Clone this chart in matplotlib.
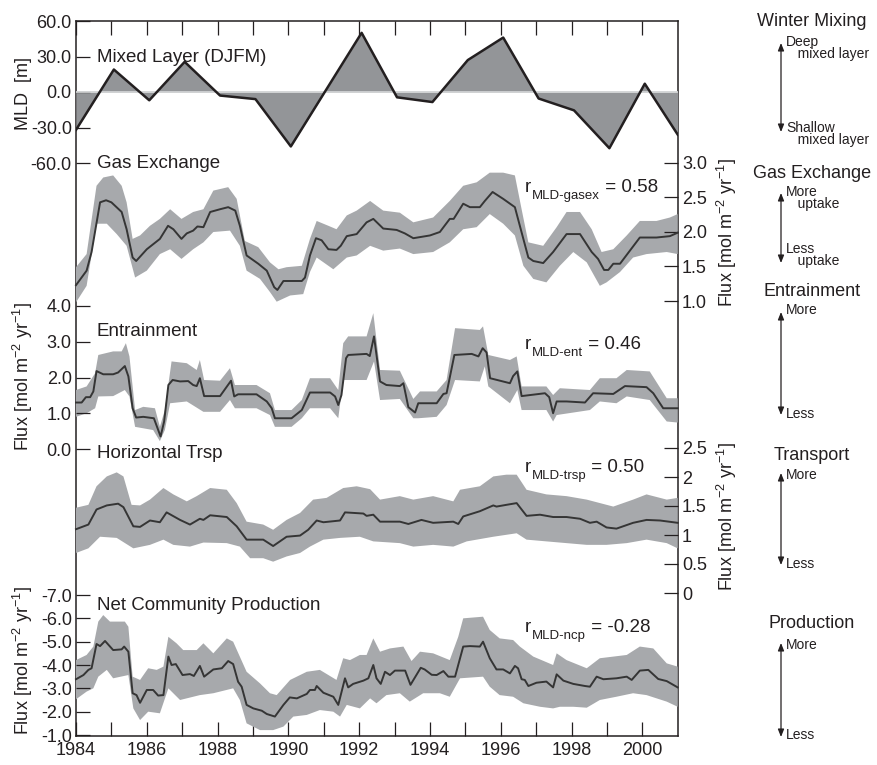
import matplotlib.pyplot as plt
import numpy as np

plt.rcParams['font.family'] = ['Liberation Sans', 'DejaVu Sans']
plt.rcParams['mathtext.fontset'] = 'custom'
plt.rcParams['mathtext.rm'] = 'Liberation Sans'
plt.rcParams['mathtext.it'] = 'Liberation Sans:italic'
plt.rcParams['mathtext.default'] = 'regular'
plt.rcParams['text.color'] = '#231f20'
plt.rcParams['xtick.color'] = '#231f20'
plt.rcParams['ytick.color'] = '#231f20'

# ---- winter (DJFM) mixed layer depth anomaly [m]
mld_year = [1984.0, 1985.07, 1986.07, 1987.07, 1988.07, 1989.07, 1990.07, 1991.07, 1992.07,
            1993.07, 1994.07, 1995.07, 1996.07, 1997.07, 1998.07, 1999.07, 2000.07, 2001.0]
mld_depth = [-32, 19, -7, 25.5, -3, -6, -46, 2, 50,
             -4.5, -8.5, 27, 46, -5.5, -15.5, -47.5, 7, -36]

# ---- gas exchange [mol m-2 yr-1]
gas_t = [1984.0, 1984.3, 1984.44, 1984.68, 1984.85, 1985.0, 1985.29, 1985.43, 1985.6, 1985.7,
         1986.0, 1986.37, 1986.6, 1986.75, 1986.98, 1987.13, 1987.31, 1987.43, 1987.6, 1987.79,
         1988.07, 1988.3, 1988.5, 1988.63, 1988.82, 1989.15, 1989.39, 1989.6, 1989.69, 1989.86,
         1990.14, 1990.38, 1990.47, 1990.61, 1990.78, 1990.94, 1991.13, 1991.36, 1991.48, 1991.65,
         1991.93, 1992.21, 1992.4, 1992.68, 1993.06, 1993.29, 1993.53, 1994.0, 1994.28, 1994.56,
         1994.67, 1994.94, 1995.13, 1995.41, 1995.55, 1995.77, 1996.07, 1996.4, 1996.54, 1996.78,
         1996.92, 1997.2, 1997.48, 1997.86, 1998.24, 1998.57, 1998.75, 1998.92, 1999.04, 1999.18,
         1999.37, 1999.65, 1999.93, 2000.4, 2000.78, 2001.0]
gas_flux = [1.23, 1.44, 1.71, 2.43, 2.46, 2.43, 2.29, 2.04, 1.63, 1.58,
            1.75, 1.90, 2.09, 2.04, 1.90, 1.98, 2.02, 2.08, 2.07, 2.29,
            2.33, 2.36, 2.31, 2.09, 1.66, 1.54, 1.44, 1.20, 1.16, 1.29,
            1.29, 1.29, 1.34, 1.66, 1.91, 1.88, 1.75, 1.74, 1.80, 1.94,
            1.97, 2.14, 2.19, 2.05, 2.03, 1.98, 1.91, 1.95, 2.00, 2.19,
            2.19, 2.41, 2.36, 2.36, 2.45, 2.58, 2.48, 2.36, 2.09, 1.63,
            1.58, 1.55, 1.71, 1.97, 1.97, 1.71, 1.61, 1.45, 1.45, 1.54,
            1.54, 1.73, 1.92, 1.92, 1.94, 1.99]
gas_hi_t = [1984.0, 1984.3, 1984.58, 1984.77, 1985.05, 1985.29, 1985.43, 1985.6, 1985.81, 1986.09,
            1986.37, 1986.66, 1986.98, 1987.31, 1987.6, 1987.88, 1988.3, 1988.54, 1988.77, 1989.15,
            1989.48, 1989.72, 1989.95, 1990.38, 1990.61, 1990.8, 1991.13, 1991.36, 1991.65, 1991.93,
            1992.31, 1992.68, 1993.15, 1993.53, 1994.09, 1994.56, 1994.94, 1995.32, 1995.69, 1996.07,
            1996.4, 1996.59, 1996.78, 1997.2, 1997.58, 1997.86, 1998.24, 1998.57, 1998.85, 1999.18,
            1999.56, 1999.93, 2000.4, 2000.78, 2001.0]
gas_hi = [1.49, 1.68, 2.67, 2.79, 2.82, 2.67, 2.43, 1.90, 1.95, 2.09,
          2.19, 2.33, 2.19, 2.29, 2.33, 2.60, 2.65, 2.48, 1.87, 1.78,
          1.56, 1.46, 1.49, 1.51, 1.90, 2.16, 2.09, 2.04, 2.24, 2.31,
          2.45, 2.31, 2.28, 2.14, 2.21, 2.45, 2.67, 2.72, 2.86, 2.86,
          2.82, 2.33, 1.85, 1.80, 2.07, 2.29, 2.29, 2.04, 1.71, 1.75,
          1.95, 2.16, 2.16, 2.21, 2.26]
gas_lo_t = [1984.0, 1984.3, 1984.58, 1984.87, 1985.15, 1985.43, 1985.67, 1986.0, 1986.37, 1986.66,
            1986.98, 1987.31, 1987.6, 1987.88, 1988.35, 1988.63, 1988.82, 1989.2, 1989.48, 1989.67,
            1990.05, 1990.42, 1990.61, 1990.8, 1991.27, 1991.65, 1991.93, 1992.31, 1992.68, 1993.15,
            1993.53, 1994.09, 1994.56, 1994.94, 1995.32, 1995.69, 1996.07, 1996.4, 1996.64, 1996.92,
            1997.29, 1997.67, 1998.05, 1998.43, 1998.8, 1998.99, 1999.37, 1999.74, 2000.12, 2000.69,
            2001.0]
gas_lo = [0.98, 1.22, 2.12, 2.12, 1.97, 1.80, 1.34, 1.44, 1.68, 1.75,
          1.61, 1.75, 1.85, 2.00, 2.02, 1.80, 1.44, 1.32, 1.13, 0.99,
          1.08, 1.10, 1.42, 1.63, 1.46, 1.63, 1.66, 1.80, 1.73, 1.76,
          1.68, 1.71, 1.85, 2.04, 2.07, 2.26, 2.12, 1.95, 1.51, 1.32,
          1.27, 1.51, 1.71, 1.56, 1.22, 1.27, 1.42, 1.63, 1.68, 1.71,
          1.68]

# ---- entrainment [mol m-2 yr-1]
ent_t = [1984.0, 1984.16, 1984.28, 1984.4, 1984.49, 1984.58, 1984.77, 1985.05, 1985.19, 1985.38,
         1985.48, 1985.6, 1985.7, 1985.9, 1986.2, 1986.39, 1986.49, 1986.61, 1986.73, 1986.94,
         1987.17, 1987.31, 1987.41, 1987.5, 1987.62, 1988.07, 1988.38, 1988.47, 1988.58, 1989.1,
         1989.39, 1989.53, 1989.62, 1990.09, 1990.38, 1990.61, 1991.18, 1991.32, 1991.41, 1991.5,
         1991.63, 1991.69, 1992.21, 1992.3, 1992.42, 1992.59, 1992.77, 1993.15, 1993.25, 1993.39,
         1993.58, 1993.67, 1994.19, 1994.38, 1994.47, 1994.69, 1995.18, 1995.37, 1995.49, 1995.6,
         1995.7, 1996.26, 1996.35, 1996.47, 1996.59, 1997.25, 1997.37, 1997.48, 1997.58, 1997.86,
         1998.38, 1998.61, 1999.18, 1999.51, 2000.12, 2000.31, 2000.59, 2001.0]
ent_flux = [1.30, 1.30, 1.45, 1.45, 1.61, 2.18, 2.09, 2.09, 2.14, 2.32,
            2.03, 1.14, 0.88, 0.90, 0.86, 0.35, 0.77, 1.79, 1.93, 1.89,
            1.90, 1.79, 1.76, 1.98, 1.48, 1.48, 1.91, 1.47, 1.53, 1.53,
            1.33, 1.14, 0.86, 0.86, 1.09, 1.58, 1.58, 1.47, 1.23, 1.51,
            2.54, 2.63, 2.66, 2.60, 3.15, 1.89, 1.79, 1.76, 1.84, 1.17,
            1.02, 1.28, 1.28, 1.54, 1.56, 2.63, 2.66, 2.59, 2.82, 2.70,
            1.98, 1.84, 2.04, 2.17, 1.48, 1.56, 1.45, 1.00, 1.33, 1.33,
            1.30, 1.56, 1.54, 1.76, 1.73, 1.56, 1.14, 1.14]
ent_hi_t = [1984.0, 1984.3, 1984.54, 1984.63, 1985.05, 1985.29, 1985.41, 1985.51, 1985.67, 1985.9,
            1986.23, 1986.37, 1986.51, 1986.7, 1987.13, 1987.41, 1987.5, 1987.62, 1988.07, 1988.35,
            1988.49, 1989.1, 1989.48, 1989.62, 1990.09, 1990.38, 1990.61, 1991.18, 1991.41, 1991.55,
            1991.69, 1992.21, 1992.4, 1992.59, 1993.15, 1993.53, 1993.72, 1994.19, 1994.47, 1994.71,
            1995.41, 1995.5, 1995.65, 1996.26, 1996.45, 1996.59, 1997.29, 1997.48, 1997.67, 1998.52,
            1998.8, 1999.27, 1999.56, 2000.21, 2000.69, 2001.0]
ent_hi = [1.65, 1.75, 2.12, 2.63, 2.73, 2.73, 2.96, 2.59, 1.09, 1.18,
          1.14, 0.62, 1.09, 2.45, 2.40, 2.21, 2.49, 1.93, 1.91, 2.26,
          1.79, 1.79, 1.56, 1.09, 1.09, 1.37, 1.98, 1.98, 1.65, 2.96,
          3.15, 3.15, 3.80, 2.21, 2.19, 1.40, 1.61, 1.61, 1.93, 3.38,
          3.33, 3.43, 2.63, 2.49, 2.59, 1.75, 1.75, 1.51, 1.70, 1.65,
          1.98, 1.98, 2.21, 2.17, 1.42, 1.42]
ent_lo_t = [1984.0, 1984.3, 1984.54, 1984.63, 1985.05, 1985.38, 1985.51, 1985.67, 1986.18, 1986.37,
            1986.51, 1986.66, 1987.13, 1987.6, 1988.07, 1988.35, 1988.49, 1989.1, 1989.48, 1989.62,
            1990.09, 1990.38, 1990.61, 1991.18, 1991.41, 1991.55, 1992.21, 1992.42, 1992.59, 1993.15,
            1993.53, 1993.67, 1994.19, 1994.47, 1994.71, 1995.41, 1995.55, 1995.65, 1996.26, 1996.47,
            1996.59, 1997.29, 1997.48, 1997.58, 1998.52, 1998.8, 1999.27, 1999.56, 2000.21, 2000.69,
            2001.0]
ent_lo = [0.90, 1.00, 1.14, 1.47, 1.48, 1.65, 1.47, 0.62, 0.53, 0.22,
          0.53, 1.28, 1.33, 1.04, 1.04, 1.37, 1.14, 1.14, 0.95, 0.62,
          0.62, 0.86, 1.14, 1.14, 0.86, 1.93, 1.93, 2.45, 1.37, 1.40,
          0.86, 0.86, 0.90, 1.23, 1.93, 1.89, 2.31, 1.75, 1.28, 1.65,
          1.09, 1.09, 0.77, 0.95, 1.09, 1.33, 1.28, 1.47, 1.37, 0.77,
          0.74]

# ---- horizontal transport [mol m-2 yr-1]
trsp_t = [1984.0, 1984.35, 1984.58, 1984.87, 1985.19, 1985.34, 1985.62, 1985.81, 1986.09, 1986.37,
          1986.56, 1986.94, 1987.22, 1987.5, 1987.6, 1987.79, 1988.26, 1988.54, 1988.82, 1989.29,
          1989.57, 1989.95, 1990.33, 1990.56, 1990.8, 1990.99, 1991.46, 1991.6, 1992.12, 1992.21,
          1992.4, 1992.59, 1993.15, 1993.39, 1993.76, 1994.09, 1994.66, 1994.8, 1994.94, 1995.41,
          1995.79, 1995.88, 1996.16, 1996.45, 1996.73, 1997.11, 1997.48, 1997.86, 1998.24, 1998.52,
          1998.71, 1998.99, 1999.27, 1999.74, 2000.12, 2000.5, 2001.0]
trsp_flux = [1.10, 1.18, 1.44, 1.51, 1.54, 1.48, 1.15, 1.14, 1.25, 1.22,
             1.39, 1.26, 1.18, 1.28, 1.26, 1.34, 1.31, 1.15, 0.92, 0.92,
             0.81, 0.97, 0.99, 1.09, 1.25, 1.22, 1.25, 1.39, 1.37, 1.33,
             1.35, 1.23, 1.23, 1.19, 1.26, 1.21, 1.23, 1.19, 1.32, 1.41,
             1.51, 1.49, 1.52, 1.55, 1.33, 1.35, 1.31, 1.31, 1.28, 1.21,
             1.23, 1.13, 1.11, 1.21, 1.26, 1.25, 1.21]
trsp_hi_t = [1984.0, 1984.35, 1984.58, 1984.87, 1985.15, 1985.34, 1985.57, 1985.81, 1986.09, 1986.47,
             1986.75, 1987.13, 1987.41, 1987.79, 1988.26, 1988.54, 1988.82, 1989.29, 1989.57, 1989.95,
             1990.33, 1990.7, 1991.08, 1991.55, 1991.93, 1992.31, 1992.59, 1993.15, 1993.53, 1994.09,
             1994.66, 1994.85, 1995.41, 1995.79, 1996.16, 1996.45, 1996.73, 1997.29, 1997.86, 1998.43,
             1999.18, 1999.74, 2000.12, 2000.69, 2001.0]
trsp_hi = [1.47, 1.52, 1.84, 2.01, 2.08, 2.01, 1.52, 1.51, 1.61, 1.81,
           1.70, 1.58, 1.67, 1.81, 1.78, 1.55, 1.23, 1.18, 1.09, 1.26,
           1.38, 1.61, 1.64, 1.81, 1.84, 1.79, 1.61, 1.67, 1.61, 1.67,
           1.58, 1.78, 1.84, 2.01, 2.04, 2.04, 1.78, 1.70, 1.67, 1.61,
           1.49, 1.61, 1.70, 1.61, 1.64]
trsp_lo_t = [1984.0, 1984.35, 1984.68, 1985.15, 1985.62, 1986.09, 1986.47, 1986.75, 1987.22, 1987.6,
             1988.26, 1988.63, 1988.92, 1989.29, 1989.57, 1989.95, 1990.33, 1990.61, 1990.99, 1991.46,
             1992.02, 1992.4, 1993.15, 1993.53, 1994.09, 1994.66, 1995.04, 1995.79, 1996.45, 1996.73,
             1997.29, 1997.86, 1998.43, 1998.99, 1999.56, 2000.12, 2000.69, 2001.0]
trsp_lo = [0.69, 0.77, 0.97, 0.95, 0.77, 0.83, 0.92, 0.83, 0.80, 0.87,
           0.86, 0.80, 0.60, 0.60, 0.54, 0.63, 0.69, 0.80, 0.92, 0.95,
           0.97, 0.89, 0.86, 0.80, 0.83, 0.80, 0.89, 0.97, 1.03, 0.92,
           0.89, 0.86, 0.83, 0.83, 0.86, 0.92, 0.86, 0.77]

# ---- net community production [mol m-2 yr-1] (negative = production)
ncp_t = [1984.0, 1984.21, 1984.35, 1984.44, 1984.58, 1984.68, 1984.82, 1985.05, 1985.29, 1985.36,
         1985.48, 1985.6, 1985.71, 1985.81, 1986.0, 1986.18, 1986.32, 1986.47, 1986.61, 1986.7,
         1986.82, 1987.01, 1987.22, 1987.33, 1987.5, 1987.62, 1987.88, 1988.12, 1988.3, 1988.44,
         1988.58, 1988.68, 1988.82, 1989.01, 1989.25, 1989.39, 1989.62, 1989.86, 1990.04, 1990.24,
         1990.52, 1990.61, 1990.75, 1990.8, 1990.99, 1991.27, 1991.41, 1991.6, 1991.69, 1991.83,
         1992.12, 1992.26, 1992.4, 1992.49, 1992.61, 1992.73, 1992.87, 1993.01, 1993.3, 1993.45,
         1993.74, 1993.85, 1994.05, 1994.19, 1994.38, 1994.52, 1994.71, 1994.94, 1995.13, 1995.41,
         1995.5, 1995.69, 1995.88, 1996.07, 1996.26, 1996.4, 1996.49, 1996.59, 1996.68, 1996.78,
         1997.01, 1997.29, 1997.48, 1997.58, 1997.77, 1998.05, 1998.38, 1998.52, 1998.71, 1998.9,
         1999.27, 1999.56, 1999.7, 1999.93, 2000.17, 2000.45, 2000.69, 2001.0]
ncp_flux = [-3.39, -3.57, -3.79, -3.86, -4.90, -4.81, -5.03, -4.64, -4.67, -4.79,
            -4.57, -2.79, -2.71, -2.38, -2.93, -2.93, -2.69, -2.71, -4.36, -4.00,
            -4.04, -3.57, -3.61, -3.53, -3.96, -3.50, -3.81, -3.86, -4.17, -4.04,
            -3.28, -3.07, -2.29, -2.14, -2.04, -1.90, -1.79, -2.29, -2.61, -2.57,
            -2.76, -2.93, -2.93, -3.10, -2.81, -2.64, -2.29, -3.43, -3.04, -3.19,
            -3.33, -3.43, -4.00, -3.43, -3.19, -3.71, -3.57, -3.76, -3.76, -3.15,
            -3.88, -3.81, -3.58, -3.57, -3.74, -3.50, -3.50, -4.79, -4.81, -4.79,
            -5.00, -4.29, -3.81, -3.81, -3.64, -3.96, -3.86, -3.39, -3.36, -3.10,
            -3.24, -3.29, -3.04, -3.60, -3.33, -3.19, -3.10, -3.07, -3.50, -3.39,
            -3.43, -3.50, -3.36, -3.76, -3.79, -3.40, -3.31, -3.04]
ncp_hi_t = [1984.0, 1984.3, 1984.49, 1984.63, 1984.77, 1984.96, 1985.38, 1985.48, 1985.6, 1985.81,
            1986.04, 1986.28, 1986.47, 1986.61, 1986.84, 1987.03, 1987.41, 1987.6, 1987.88, 1988.26,
            1988.44, 1988.82, 1989.2, 1989.48, 1989.67, 1990.05, 1990.52, 1990.89, 1991.36, 1991.55,
            1991.74, 1992.02, 1992.21, 1992.4, 1992.59, 1992.87, 1993.25, 1993.48, 1993.72, 1994.09,
            1994.56, 1994.8, 1994.94, 1995.5, 1995.69, 1995.97, 1996.35, 1996.54, 1996.92, 1997.48,
            1997.58, 1997.86, 1998.43, 1998.8, 1999.56, 1999.93, 2000.31, 2000.69, 2001.0]
ncp_hi = [-4.21, -4.43, -4.79, -5.86, -6.14, -5.86, -5.86, -5.64, -3.50, -3.36,
          -3.86, -3.79, -3.93, -5.21, -4.93, -4.64, -4.64, -4.93, -4.50, -5.14,
          -5.00, -3.71, -3.21, -2.79, -2.71, -3.36, -3.71, -3.79, -3.36, -4.29,
          -4.21, -4.43, -4.43, -5.14, -4.57, -4.71, -4.79, -4.17, -4.57, -4.50,
          -4.21, -5.21, -6.00, -6.07, -5.50, -5.14, -5.07, -4.79, -4.36, -4.00,
          -4.50, -4.21, -3.86, -4.29, -4.43, -4.79, -4.71, -4.07, -3.93]
ncp_lo_t = [1984.0, 1984.3, 1984.49, 1984.63, 1984.87, 1985.05, 1985.48, 1985.62, 1985.81, 1986.04,
            1986.37, 1986.61, 1986.94, 1987.5, 1987.88, 1988.44, 1988.63, 1988.82, 1989.2, 1989.57,
            1989.86, 1990.14, 1990.52, 1990.89, 1991.27, 1991.46, 1991.65, 1992.02, 1992.31, 1992.49,
            1992.77, 1993.15, 1993.43, 1993.81, 1994.28, 1994.56, 1994.85, 1995.5, 1995.69, 1995.97,
            1996.35, 1996.64, 1997.11, 1997.48, 1997.67, 1998.05, 1998.43, 1998.8, 1999.27, 1999.74,
            2000.12, 2000.69, 2001.0]
ncp_lo = [-2.53, -2.86, -3.00, -3.50, -3.79, -3.43, -3.57, -2.14, -1.64, -2.00,
          -1.93, -3.00, -2.50, -2.71, -2.79, -3.00, -2.50, -1.50, -1.21, -1.21,
          -1.36, -1.79, -1.86, -2.07, -2.00, -1.79, -2.29, -2.14, -2.57, -2.36,
          -2.71, -2.79, -2.43, -2.79, -2.79, -2.64, -3.43, -3.50, -3.07, -2.71,
          -2.64, -2.36, -2.21, -2.14, -2.21, -2.21, -2.17, -2.50, -2.64, -2.79,
          -2.71, -2.43, -2.21]

year_ticks = np.arange(1984, 2001, 2)

INK = '#231f20'
BAND = '#a7a9ac'
LINE = '#353535'
W, H = 877, 765
X0, X1 = 76, 677.7          # pixel columns of 1984 and 2001


def fx(px):
    return px / W


def fy(py):
    return 1 - py / H


def rect(top, bottom):
    return [fx(X0), fy(bottom), fx(X1) - fx(X0), (bottom - top) / H]


fig = plt.figure(figsize=(W / 100, H / 100), dpi=100)

# outer frame carrying the year axis
frame = fig.add_axes(rect(21, 735.5))
frame.set_xlim(1984, 2001)
frame.set_ylim(0, 1)
frame.set_yticks([])
frame.set_xticks(year_ticks)
frame.set_xticklabels([str(y) for y in year_ticks])
frame.set_xticks(np.arange(1985, 2001, 2), minor=True)
frame.tick_params(axis='x', which='both', direction='in', top=True, bottom=True,
                  length=10, width=0.9, labelsize=13, pad=4.5)
for s in frame.spines.values():
    s.set_linewidth(1.1)
    s.set_color(INK)


def panel(top, bottom, ylim, ticks, labels, side):
    ax = fig.add_axes(rect(top, bottom))
    ax.set_xlim(1984, 2001)
    ax.set_ylim(ylim)
    ax.patch.set_visible(False)
    for s in ax.spines.values():
        s.set_visible(False)
    ax.set_xticks([])
    ax.set_yticks(ticks)
    ax.set_yticklabels(labels)
    if side == 'right':
        ax.yaxis.tick_right()
    ax.tick_params(axis='y', direction='in', length=10, width=0.9, labelsize=13, pad=3)
    return ax


def band(ax, t, y, hi_t, hi, lo_t, lo):
    xs = np.concatenate([hi_t, lo_t[::-1]])
    ys = np.concatenate([hi, lo[::-1]])
    ax.fill(xs, ys, color=BAND, lw=0, clip_on=False)
    ax.plot(t, y, color=LINE, lw=1.4, clip_on=False)


# mixed layer depth
ax = panel(21, 163, (-60, 60), [-60, -30, 0, 30, 60],
           ['-60.0', '-30.0', '0.0', '30.0', '60.0'], 'left')
ax.fill_between(mld_year, mld_depth, 0, color='#939598', lw=0, interpolate=True)
ax.axhline(0, color='#d1d3d4', lw=1.3)
ax.plot(mld_year, mld_depth, color=INK, lw=1.8)

# gas exchange
ax = panel(163, 301, (1.0, 3.0), [1.0, 1.5, 2.0, 2.5, 3.0],
           ['1.0', '1.5', '2.0', '2.5', '3.0'], 'right')
band(ax, gas_t, gas_flux, gas_hi_t, gas_hi, gas_lo_t, gas_lo)

# entrainment
ax = panel(306, 449, (0, 4), [0, 1, 2, 3, 4],
           ['0.0', '1.0', '2.0', '3.0', '4.0'], 'left')
band(ax, ent_t, ent_flux, ent_hi_t, ent_hi, ent_lo_t, ent_lo)

# horizontal transport
ax = panel(448, 593, (0, 2.5), [0, 0.5, 1, 1.5, 2, 2.5],
           ['0', '0.5', '1', '1.5', '2', '2.5'], 'right')
band(ax, trsp_t, trsp_flux, trsp_hi_t, trsp_hi, trsp_lo_t, trsp_lo)

# net community production (axis reversed)
ax = panel(595, 735, (-1, -7), [-1, -2, -3, -4, -5, -6, -7],
           ['-1.0', '-2.0', '-3.0', '-4.0', '-5.0', '-6.0', '-7.0'], 'left')
band(ax, ncp_t, ncp_flux, ncp_hi_t, ncp_hi, ncp_lo_t, ncp_lo)

# panel titles
for txt, ypx in [('Mixed Layer (DJFM)', 57), ('Gas Exchange', 164), ('Entrainment', 332),
                 ('Horizontal Trsp', 454), ('Net Community Production', 605)]:
    fig.text(fx(97), fy(ypx), txt, fontsize=13.5, va='center', ha='left')

# axis titles
flux_lab = 'Flux [mol m$^{-2}$ yr$^{-1}$]'
fig.text(fx(23), fy(93), 'MLD  [m]', rotation=90, fontsize=13, va='center', ha='center')
fig.text(fx(23), fy(377), flux_lab, rotation=90, fontsize=13, va='center', ha='center')
fig.text(fx(23), fy(661), flux_lab, rotation=90, fontsize=13, va='center', ha='center')
fig.text(fx(727), fy(233), flux_lab, rotation=90, fontsize=13, va='center', ha='center')
fig.text(fx(727), fy(517), flux_lab, rotation=90, fontsize=13, va='center', ha='center')


# correlation labels: r with a hyphenated subscript
def corr_label(ypx, sub, value):
    t1 = fig.text(fx(525), fy(ypx), 'r', fontsize=13.5, va='center', ha='left')
    t2 = frame.annotate(sub, xy=(1, 0), xycoords=t1, xytext=(0.3, 0),
                        textcoords='offset points', fontsize=9.5, va='center',
                        ha='left', annotation_clip=False)
    frame.annotate(' = ' + value, xy=(1, 0), xycoords=(t2, t1), fontsize=13.5,
                   va='bottom', ha='left', annotation_clip=False)


corr_label(187, 'MLD-gasex', '0.58')
corr_label(345, 'MLD-ent', '0.46')
corr_label(467, 'MLD-trsp', '0.50')
corr_label(627, 'MLD-ncp', '-0.28')


# direction keys on the right: title, double arrow, end labels
def key(title, title_y, top, bottom, up_text, up_y, down_text, down_y):
    fig.text(fx(812), fy(title_y), title, fontsize=13, ha='center', va='center')
    frame.annotate('', xy=(fx(781), fy(top)), xytext=(fx(781), fy(bottom)),
                   xycoords='figure fraction', textcoords='figure fraction',
                   arrowprops=dict(arrowstyle='<|-|>,head_length=0.45,head_width=0.18',
                                   lw=0.9, color=INK, shrinkA=0, shrinkB=0),
                   annotation_clip=False)
    for txt, ypx in [(up_text, up_y), (down_text, down_y)]:
        fig.text(fx(786), fy(ypx), txt, fontsize=10, ha='left', va='center',
                 linespacing=0.78)


key('Winter Mixing', 22, 43, 132, 'Deep\n   mixed layer', 48, 'Shallow\n   mixed layer', 134)
key('Gas Exchange', 173, 193, 263, 'More\n   uptake', 198, 'Less\n   uptake', 255)
key('Entrainment', 292, 312, 415, 'More', 310, 'Less', 414)
key('Transport', 455, 473, 565, 'More', 475, 'Less', 564)
key('Production', 623, 643, 737, 'More', 645, 'Less', 735)

fig.savefig('out.png', dpi=100)
